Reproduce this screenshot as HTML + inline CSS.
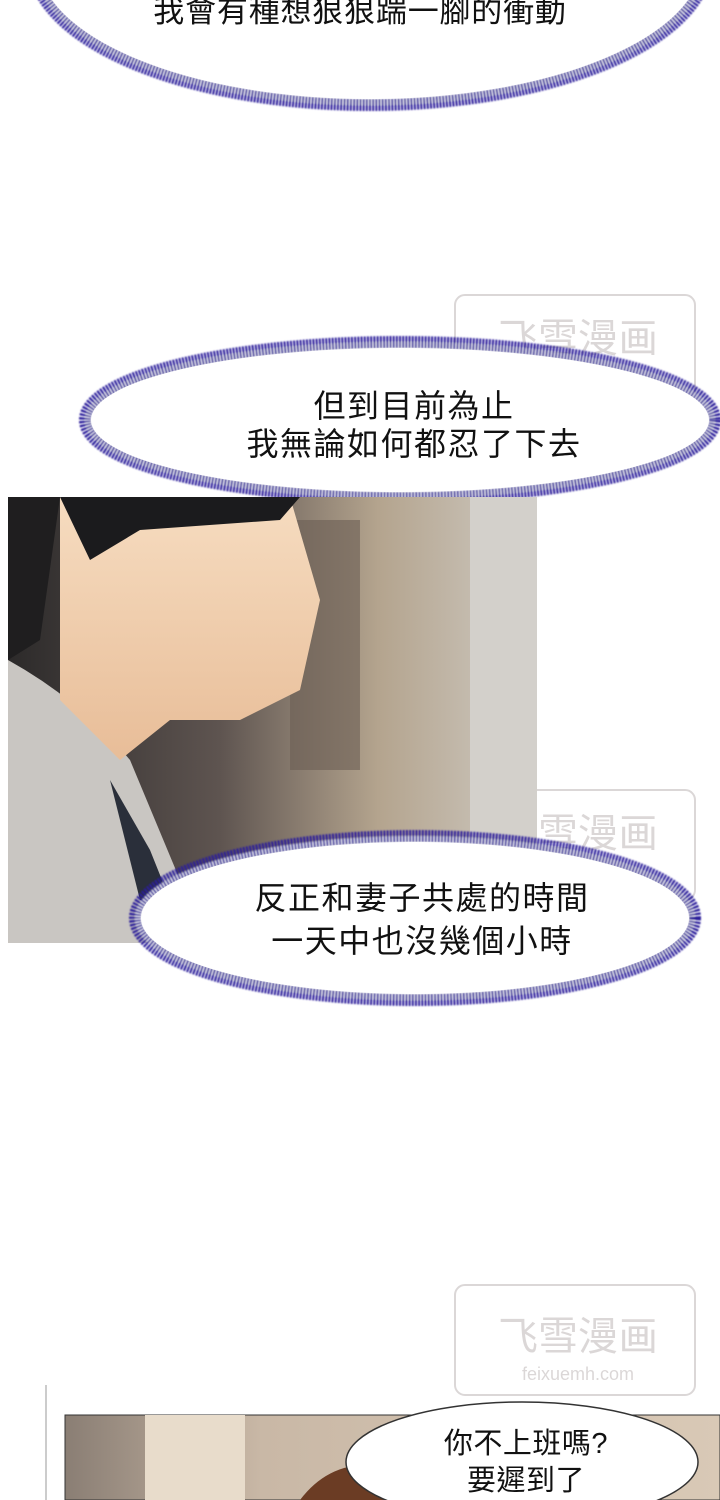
<!DOCTYPE html>
<html><head><meta charset="utf-8">
<style>
html,body{margin:0;padding:0;background:#fff;}
svg{display:block}
text{font-family:"Liberation Sans","Noto Sans CJK TC",sans-serif;}
</style></head>
<body>
<svg width="720" height="1500" viewBox="0 0 720 1500">
<defs>
<filter id="grain" x="-10%" y="-10%" width="120%" height="120%"><feGaussianBlur stdDeviation="0.7"/></filter>
<linearGradient id="bg2" x1="0" x2="1" y1="0" y2="0">
<stop offset="0" stop-color="#2c2a2a"/><stop offset="0.4" stop-color="#5e5450"/><stop offset="0.7" stop-color="#b4a48e"/><stop offset="1" stop-color="#cfcbc4"/></linearGradient>
<linearGradient id="skin" x1="0" x2="0" y1="0" y2="1"><stop offset="0" stop-color="#f6dcc0"/><stop offset="1" stop-color="#e8bd98"/></linearGradient>
<linearGradient id="wall" x1="0" x2="1"><stop offset="0" stop-color="#8a7e74"/><stop offset="0.3" stop-color="#c9b8a6"/><stop offset="1" stop-color="#d9c9b6"/></linearGradient>
</defs>

<g>
<ellipse cx="370" cy="-40" rx="338" ry="145" fill="#fff" stroke="#2a1f9a" stroke-width="12" stroke-dasharray="2 1.2" filter="url(#grain)"/>
<ellipse cx="370" cy="-40" rx="332" ry="139" fill="#fff"/>
<text x="360" y="22" font-size="31" letter-spacing="0.8" text-anchor="middle" fill="#111">我會有種想狠狠踹一腳的衝動</text>
</g>

<g opacity="0.35" fill="#9a8f8f">
<rect x="455" y="295" width="240" height="110" rx="10" fill="none" stroke="#9a8f8f" stroke-width="2"/>
<text x="578" y="352" font-size="40" text-anchor="middle">飞雪漫画</text>
<text x="578" y="385" font-size="18" text-anchor="middle" font-family="Liberation Mono,monospace">feixuemh.com</text>
</g>
<g opacity="0.35" fill="#9a8f8f">
<rect x="455" y="790" width="240" height="110" rx="10" fill="none" stroke="#9a8f8f" stroke-width="2"/>
<text x="578" y="847" font-size="40" text-anchor="middle">飞雪漫画</text>
<text x="578" y="878" font-size="18" text-anchor="middle" font-family="Liberation Mono,monospace">feixuemh.com</text>
</g>
<g opacity="0.35" fill="#9a8f8f">
<rect x="455" y="1285" width="240" height="110" rx="10" fill="none" stroke="#9a8f8f" stroke-width="2"/>
<text x="578" y="1350" font-size="40" text-anchor="middle">飞雪漫画</text>
<text x="578" y="1380" font-size="18" text-anchor="middle" font-family="Liberation Mono,monospace">feixuemh.com</text>
</g>

<g>
<ellipse cx="400" cy="420" rx="315" ry="78" fill="#fff" stroke="#2a1f9a" stroke-width="12" stroke-dasharray="2 1.2" filter="url(#grain)"/>
<ellipse cx="400" cy="420" rx="309" ry="72" fill="#fff"/>
<text x="414" y="417" font-size="32" letter-spacing="1.5" text-anchor="middle" fill="#111">但到目前為止</text>
<text x="414" y="455" font-size="32" letter-spacing="1.5" text-anchor="middle" fill="#111">我無論如何都忍了下去</text>
</g>

<g>
<rect x="8" y="497" width="529" height="446" fill="url(#bg2)"/>
<rect x="290" y="520" width="70" height="250" fill="#6a5e54" opacity="0.6"/>
<rect x="470" y="497" width="67" height="446" fill="#d3d0cb"/>
<path d="M8 660 Q80 700 130 760 L180 880 L170 943 L8 943 Z" fill="#c9c6c2"/>
<path d="M110 780 L150 850 L170 900 L140 900 Z" fill="#2a2f3a"/>
<path d="M60 497 L290 497 L320 600 L300 690 L240 720 L170 720 L120 760 L60 700 Z" fill="url(#skin)"/>
<path d="M60 497 L300 497 L280 520 L140 530 L90 560 Z" fill="#1b1b1d"/>
<path d="M8 497 L60 497 L40 640 L8 660 Z" fill="#1f1e1f"/>
</g>

<g>
<ellipse cx="415" cy="918" rx="280" ry="82" fill="#fff" stroke="#2a1f9a" stroke-width="12" stroke-dasharray="2 1.2" filter="url(#grain)"/>
<ellipse cx="415" cy="918" rx="274" ry="76" fill="#fff"/>
<text x="422" y="909" font-size="32" letter-spacing="1.5" text-anchor="middle" fill="#111">反正和妻子共處的時間</text>
<text x="422" y="952" font-size="32" letter-spacing="1.5" text-anchor="middle" fill="#111">一天中也沒幾個小時</text>
</g>

<line x1="46" y1="1385" x2="46" y2="1500" stroke="#ccc" stroke-width="2"/>
<g>
<rect x="65" y="1415" width="655" height="85" fill="url(#wall)" stroke="#333" stroke-width="1"/>
<rect x="145" y="1415" width="100" height="85" fill="#e8dccb"/>
<path d="M300 1500 Q330 1460 380 1465 L400 1500 Z" fill="#6b3c24"/>
</g>
<g>
<ellipse cx="522" cy="1462" rx="176" ry="60" fill="#fff" stroke="#333" stroke-width="1.5"/>
<text x="526" y="1453" font-size="29" letter-spacing="0.5" text-anchor="middle" fill="#111">你不上班嗎?</text>
<text x="526" y="1490" font-size="29" letter-spacing="0.5" text-anchor="middle" fill="#111">要遲到了</text>
</g>
</svg>
</body></html>
